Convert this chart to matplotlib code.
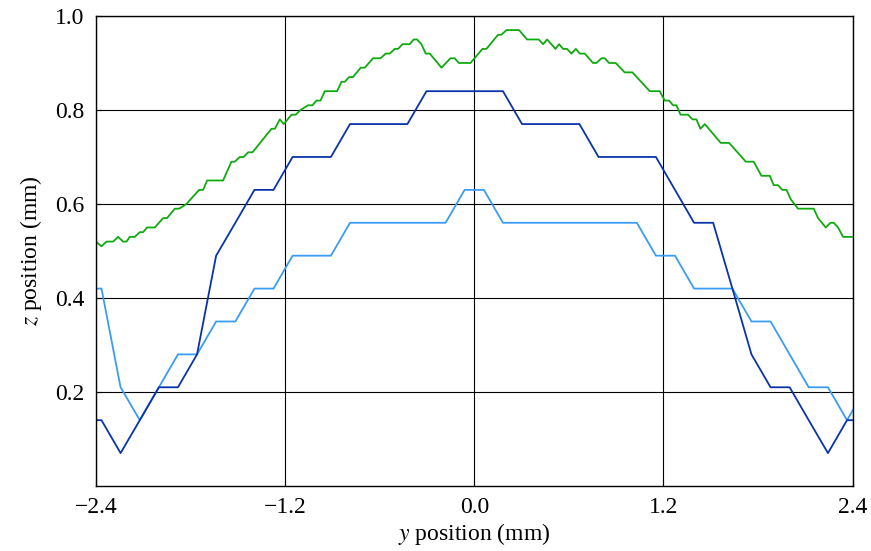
import matplotlib
matplotlib.use("Agg")
import matplotlib.pyplot as plt

plt.rcParams["font.family"] = "Liberation Serif"
plt.rcParams["mathtext.fontset"] = "stix"

# sample positions of the two stepped profiles (mm)
y_steps = [-2.485, -2.364, -2.243, -2.121, -2.000, -1.879, -1.758, -1.637, -1.515, -1.394,
           -1.273, -1.152, -1.031, -0.909, -0.788, -0.667, -0.546, -0.424, -0.303, -0.182,
           -0.061, 0.061, 0.182, 0.303, 0.424, 0.546, 0.667, 0.788, 0.909, 1.031,
           1.152, 1.273, 1.394, 1.515, 1.637, 1.758, 1.879, 2.000, 2.121, 2.243,
           2.364, 2.485]

z_dark = [0.14, 0.14, 0.07, 0.14, 0.21, 0.21, 0.28, 0.49, 0.56, 0.63,
          0.63, 0.70, 0.70, 0.70, 0.77, 0.77, 0.77, 0.77, 0.84, 0.84,
          0.84, 0.84, 0.84, 0.77, 0.77, 0.77, 0.77, 0.70, 0.70, 0.70,
          0.70, 0.63, 0.56, 0.56, 0.42, 0.28, 0.21, 0.21, 0.14, 0.07,
          0.14, 0.14]

z_light = [0.42, 0.42, 0.21, 0.14, 0.21, 0.28, 0.28, 0.35, 0.35, 0.42,
           0.42, 0.49, 0.49, 0.49, 0.56, 0.56, 0.56, 0.56, 0.56, 0.56,
           0.63, 0.63, 0.56, 0.56, 0.56, 0.56, 0.56, 0.56, 0.56, 0.56,
           0.49, 0.49, 0.42, 0.42, 0.42, 0.35, 0.35, 0.28, 0.21, 0.21,
           0.14, 0.21]

# measured (noisy) profile
y_green = [-2.400, -2.364, -2.332, -2.290, -2.259, -2.227, -2.205, -2.185, -2.153, -2.121,
           -2.100, -2.075, -2.026, -1.973, -1.948, -1.899, -1.872, -1.825, -1.745, -1.720,
           -1.694, -1.593, -1.540, -1.519, -1.487, -1.462, -1.434, -1.406, -1.286, -1.265,
           -1.233, -1.208, -1.159, -1.132, -1.102, -1.054, -1.026, -1.001, -0.975, -0.948,
           -0.870, -0.842, -0.821, -0.794, -0.769, -0.720, -0.694, -0.642, -0.595, -0.561,
           -0.536, -0.504, -0.483, -0.455, -0.409, -0.384, -0.363, -0.335, -0.308, -0.282,
           -0.208, -0.151, -0.124, -0.098, -0.024, 0.052, 0.077, 0.151, 0.172, 0.204,
           0.284, 0.335, 0.409, 0.436, 0.462, 0.515, 0.538, 0.563, 0.588, 0.616,
           0.644, 0.669, 0.701, 0.753, 0.775, 0.807, 0.828, 0.855, 0.897, 0.954,
           1.003, 1.113, 1.176, 1.208, 1.235, 1.261, 1.282, 1.308, 1.356, 1.384,
           1.409, 1.434, 1.462, 1.563, 1.616, 1.722, 1.772, 1.821, 1.874, 1.899,
           1.926, 1.954, 1.980, 2.007, 2.053, 2.153, 2.180, 2.229, 2.259, 2.280,
           2.307, 2.339, 2.402]
z_green = [0.52, 0.51, 0.52, 0.52, 0.53, 0.52, 0.52, 0.53, 0.53, 0.54,
           0.54, 0.55, 0.55, 0.57, 0.57, 0.59, 0.59, 0.60, 0.63, 0.63,
           0.65, 0.65, 0.69, 0.69, 0.70, 0.70, 0.71, 0.71, 0.76, 0.76,
           0.78, 0.77, 0.79, 0.79, 0.80, 0.81, 0.81, 0.82, 0.82, 0.84,
           0.84, 0.86, 0.86, 0.87, 0.87, 0.89, 0.89, 0.91, 0.91, 0.92,
           0.92, 0.93, 0.93, 0.94, 0.94, 0.95, 0.95, 0.94, 0.92, 0.92,
           0.89, 0.91, 0.91, 0.90, 0.90, 0.93, 0.93, 0.96, 0.96, 0.97,
           0.97, 0.95, 0.95, 0.94, 0.95, 0.93, 0.94, 0.93, 0.93, 0.92,
           0.93, 0.92, 0.92, 0.90, 0.90, 0.91, 0.91, 0.90, 0.90, 0.88,
           0.88, 0.84, 0.84, 0.82, 0.82, 0.81, 0.81, 0.79, 0.79, 0.78,
           0.78, 0.76, 0.77, 0.73, 0.73, 0.69, 0.69, 0.66, 0.66, 0.64,
           0.64, 0.63, 0.63, 0.61, 0.59, 0.59, 0.57, 0.55, 0.56, 0.56,
           0.55, 0.53, 0.53]

x_ticks = [-2.4, -1.2, 0.0, 1.2, 2.4]
x_tick_labels = ["\u22122.4", "\u22121.2", "0.0", "1.2", "2.4"]
z_ticks = [0.2, 0.4, 0.6, 0.8, 1.0]

fig = plt.figure(figsize=(8.71, 5.51), dpi=100)
ax = fig.add_axes([0.110, 0.118, 0.869, 0.853])

ax.plot(y_steps, z_light, color="#3a9cf5", lw=1.3)
ax.plot(y_steps, z_dark, color="#0a34a8", lw=1.3)
ax.plot(y_green, z_green, color="#10aa10", lw=1.3)

ax.set_xlim(-2.4, 2.4)
ax.set_ylim(0, 1.0)
ax.set_xticks(x_ticks)
ax.set_xticklabels(x_tick_labels)
ax.set_yticks(z_ticks)
ax.grid(True, color="black", lw=0.8)
ax.tick_params(direction="in", labelsize=17, length=4, pad=8)
for s in ax.spines.values():
    s.set_linewidth(1.0)

ax.set_xlabel("$y$ position (mm)", fontsize=17, labelpad=2)
ax.set_ylabel("$z$ position (mm)", fontsize=17, labelpad=8)

fig.savefig("out.png", dpi=100)
